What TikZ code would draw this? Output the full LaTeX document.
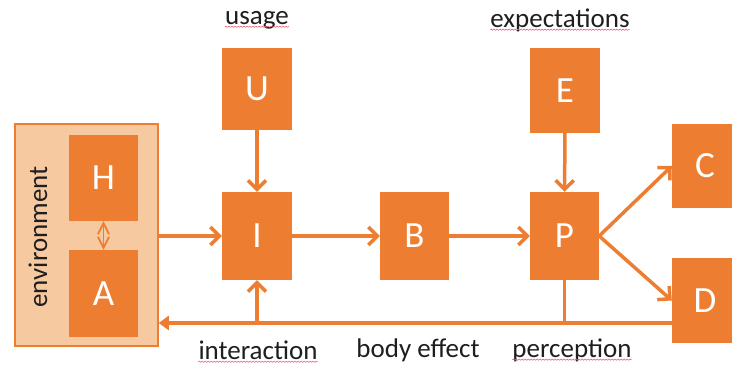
\documentclass[tikz,border=0pt]{standalone}
\usepackage{fontspec}
\setmainfont{Carlito}
\usetikzlibrary{arrows.meta,decorations.pathmorphing}
\definecolor{orng}{HTML}{ED7D31}
\definecolor{envfill}{HTML}{F7C9A0}
\definecolor{inkk}{HTML}{1E1E1E}
\definecolor{spell}{HTML}{E8607A}

\tikzset{
  box/.style={fill=orng,text=white,inner sep=0pt,minimum width=70pt,minimum height=86pt,
    font=\fontsize{37}{40}\selectfont},
  lbl/.style={text=inkk,inner sep=0pt,font=\fontsize{27}{30}\selectfont},
  arr/.style={orng,line width=3.5pt,-{Straight Barb[length=9pt,width=18pt,line width=3.5pt]}},
  squig/.style={spell,line width=0.6pt,decorate,decoration={snake,segment length=3pt,amplitude=0.6pt}}
}

\begin{document}
\begin{tikzpicture}[x=1pt,y=-1pt]
\useasboundingbox (0,0) rectangle (732,367);
% environment
\node[draw=orng,fill=envfill,line width=1.5pt,minimum width=143pt,minimum height=222pt,inner sep=0pt] (env) at (86.5,235) {};
\node[lbl,rotate=90] (envtxt) at (38,237) {environment};
\node[box,minimum width=69pt] (H) at (103.5,178) {H};
\node[box,minimum width=69pt,minimum height=87pt] (A) at (103.5,293.5) {A};
\draw[orng,line width=1.8pt,{Straight Barb[length=11pt,width=11pt,line width=1.8pt]}-{Straight Barb[length=11pt,width=11pt,line width=1.8pt]}] (H.south) -- (A.north);
% top row
\node[box,minimum height=82pt] (U) at (257,89) {U};
\node[box,minimum height=85pt] (E) at (565,90.5) {E};
\node[lbl] (usage) at (257,20) {usage};
\node[lbl] (expect) at (560,20) {expectations};
% middle row
\node[box,minimum height=88pt] (I) at (257,236) {I};
\node[box,minimum width=69pt,minimum height=88pt] (B) at (414.5,236) {B};
\node[box,minimum width=69pt,minimum height=88pt] (P) at (564.5,236) {P};
\node[box,minimum width=66pt,minimum height=84pt] (C) at (705,166) {C};
\node[box,minimum width=66pt,minimum height=85pt] (D) at (705,300.5) {D};
% bottom labels
\node[lbl] (inter) at (258,350) {interaction};
\node[lbl] (body) at (418,350) {body effect};
\node[lbl] (perc) at (572,350) {perception};
\foreach \t in {usage,expect,inter,perc}
  \draw[squig] ([yshift=-2.5pt]\t.base west) -- ([yshift=-2.5pt]\t.base east);
% connectors
\coordinate (Pfoot) at (564.5,323);
\draw[arr] (env.east |- I.west) -- (I.west);
\draw[arr] (I) -- (B);
\draw[arr] (B) -- (P);
\draw[arr] (U) -- (I);
\draw[arr] (E) -- (P);
\draw[arr] (P.east) -- (C.west);
\draw[arr] (P.east) -- (D.west);
\draw[orng,line width=3.5pt] (P.south) -- (Pfoot);
\draw[orng,line width=3.5pt,-{Triangle[length=10pt,width=14pt]}] (D.west |- Pfoot) -- (env.east |- Pfoot);
\draw[arr] (I.south |- Pfoot) -- (I.south);
\end{tikzpicture}
\end{document}
